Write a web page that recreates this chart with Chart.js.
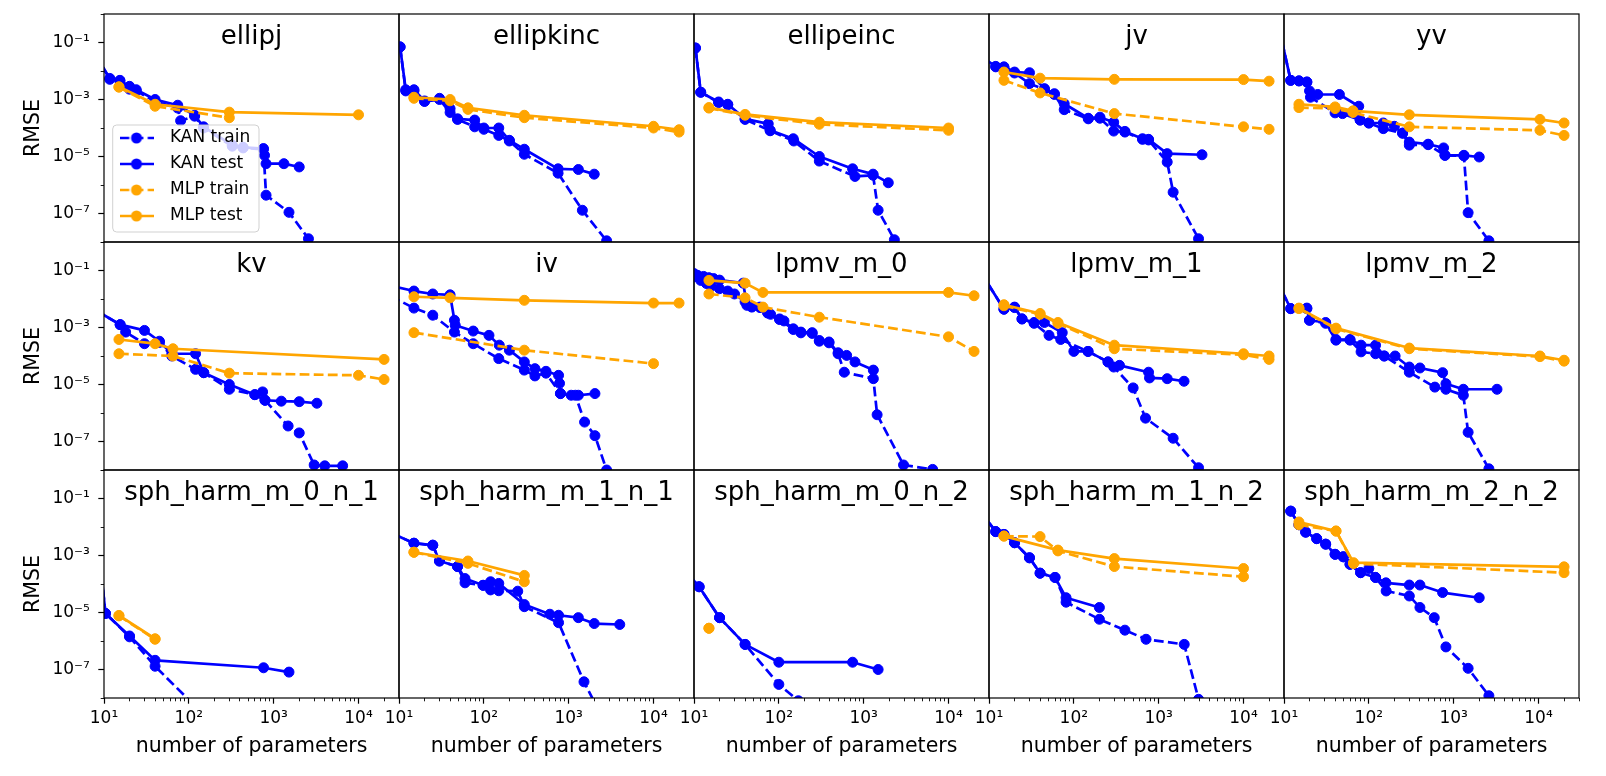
<!DOCTYPE html>
<html><head><meta charset="utf-8">
<script src="https://cdn.jsdelivr.net/npm/chart.js@4/dist/chart.umd.min.js"></script>
<style>
html,body{margin:0;padding:0;background:#fff;overflow:hidden;width:1606px;height:776px;}
canvas{position:absolute;}
</style></head><body>
<script>
// ---------------- data ----------------
const titles = ['ellipj','ellipkinc','ellipeinc','jv','yv','kv','iv','lpmv_m_0','lpmv_m_1','lpmv_m_2',
  'sph_harm_m_0_n_1','sph_harm_m_1_n_1','sph_harm_m_0_n_2','sph_harm_m_1_n_2','sph_harm_m_2_n_2'];
const seriesNames = ['KAN train','KAN test','MLP train','MLP test'];

const xMajorTicks = [10, 100, 1000, 10000];
const xTickLabels = ['10¹','10²','10³','10⁴'];
const xMinorTicks = [20,30,40,50,60,70,80,90,200,300,400,500,600,700,800,900,2000,3000,4000,5000,6000,7000,8000,9000,20000,30000];
const yMajorTicks = [1e-1, 1e-3, 1e-5, 1e-7];
const yTickLabels = ['10⁻¹','10⁻³','10⁻⁵','10⁻⁷'];
const yMinorTicks = [1, 1e-2, 1e-4, 1e-6, 1e-8];
const xRange = [10, 30000];
const yRange = [1e-8, 1];

// ellipj
const ellipj_kanTrain = [[8,3.6e-2],[11.7,5.5e-3],[15.4,4.5e-3],[20,2.3e-3],[24,2.0e-3],[40,8.5e-4],[74,5.0e-4],[80,1.8e-4],[117,2.6e-4],[149,1.0e-4],[325,2.3e-5],[436,2.0e-5],[757,1.8e-5],[813,4.4e-7],[1515,1.1e-7],[2570,1.3e-8],[4000,1.2e-9]];
const ellipj_kanTest = [[8,3.6e-2],[11.7,5.1e-3],[15.4,4.7e-3],[20,2.9e-3],[24,2.2e-3],[40,1.0e-3],[74,6.3e-4],[117,2.8e-4],[149,1.1e-4],[325,2.5e-5],[436,2.1e-5],[757,1.9e-5],[780,1.1e-5],[813,5.6e-6],[1320,5.6e-6],[2000,4.3e-6]];
const ellipj_mlpTrain = [[15,2.7e-3],[40,5.8e-4],[300,2.3e-4]];
const ellipj_mlpTest = [[15,2.8e-3],[40,6.8e-4],[300,3.6e-4],[10000,2.9e-4]];
// ellipkinc
const ellipkinc_kanTrain = [[10.3,7e-2],[12,2.0e-3],[15,2.0e-3],[20,8.5e-4],[30,1.0e-3],[40,3.5e-4],[49,2.0e-4],[78,1.1e-4],[100,9e-5],[150,5.5e-5],[200,3.5e-5],[300,1.2e-5],[750,2.6e-6],[1450,1.3e-7],[2800,1.1e-8],[4000,1.5e-9]];
const ellipkinc_kanTest = [[10.3,7e-2],[12,2.2e-3],[15,2.2e-3],[20,8.9e-4],[30,1.1e-3],[40,4.8e-4],[49,2.1e-4],[78,1.9e-4],[100,1.0e-4],[150,1.0e-4],[200,3.7e-5],[300,1.8e-5],[750,3.7e-6],[1300,3.5e-6],[2000,2.4e-6]];
const ellipkinc_mlpTrain = [[15,1.1e-3],[40,9e-4],[65,4.5e-4],[300,2.3e-4],[10000,1.0e-4],[20000,7.2e-5]];
const ellipkinc_mlpTest = [[15,1.2e-3],[40,1.0e-3],[65,5.1e-4],[300,2.8e-4],[10000,1.15e-4],[20000,8.7e-5]];
// ellipeinc
const ellipeinc_kanTrain = [[10.4,6.4e-2],[12,1.8e-3],[19.5,7.8e-4],[25,6.5e-4],[40,2.0e-4],[79,8.0e-5],[150,3.5e-5],[300,6.9e-6],[790,2.0e-6],[1290,2.2e-6],[1480,1.3e-7],[2300,1.2e-8],[3500,1e-9]];
const ellipeinc_kanTest = [[10.4,6.4e-2],[12,1.8e-3],[19.5,8.2e-4],[25,6.8e-4],[40,2.1e-4],[75,1.4e-4],[79,8.3e-5],[148,4.2e-5],[300,1.0e-5],[740,3.7e-6],[1290,2.4e-6],[1950,1.2e-6]];
const ellipeinc_mlpTrain = [[15,5.0e-4],[40,2.8e-4],[300,1.35e-4],[10000,8.3e-5]];
const ellipeinc_mlpTest = [[15,5.2e-4],[40,3.0e-4],[300,1.6e-4],[10000,1.0e-4]];
// jv
const jv_kanTrain = [[8,3.3e-2],[12,1.4e-2],[15,1.3e-2],[20,8.5e-3],[30,3.6e-3],[45,2.3e-3],[59,1.5e-3],[77,4.4e-4],[148,2.1e-4],[203,2.2e-4],[295,7.8e-5],[400,7.2e-5],[645,4.0e-5],[760,3.8e-5],[1260,6.4e-6],[1480,5.6e-7],[2950,1.3e-8],[4500,1e-9]];
const jv_kanTest = [[8,3.3e-2],[12,1.45e-2],[15,1.4e-2],[20,9.2e-3],[30,8.7e-3],[45,2.4e-3],[59,1.6e-3],[77,7.1e-4],[148,2.2e-4],[203,2.4e-4],[295,1.6e-4],[400,7.6e-5],[645,4.2e-5],[760,4.0e-5],[1260,1.26e-5],[3240,1.15e-5]];
const jv_mlpTrain = [[15,4.7e-3],[40,1.7e-3],[300,3.2e-4],[10000,1.1e-4],[20000,9e-5]];
const jv_mlpTest = [[15,9.2e-3],[40,5.6e-3],[300,5.1e-3],[10000,5.0e-3],[20000,4.4e-3]];
// yv
const yv_kanTrain = [[8,1.0],[12,4.7e-3],[15,4.5e-3],[18.6,4.1e-3],[20.5,1.2e-3],[40,3.4e-4],[49,3.2e-4],[79,1.9e-4],[100,1.5e-4],[148,9.5e-5],[250,6.6e-5],[300,2.5e-5],[500,2.6e-5],[790,1.1e-5],[1320,1.05e-5],[1480,1.07e-7],[2600,1.1e-8],[4000,1e-9]];
const yv_kanTest = [[8,1.0],[12,4.7e-3],[15,4.5e-3],[18.6,4.1e-3],[20,2.0e-3],[25,1.5e-3],[45,1.5e-3],[76,5.8e-4],[79,1.9e-4],[100,1.5e-4],[148,1.5e-4],[200,1.15e-4],[250,6.6e-5],[300,3.2e-5],[500,2.7e-5],[760,2.0e-5],[790,1.1e-5],[1320,1.1e-5],[2000,9.6e-6]];
const yv_mlpTrain = [[15,5.2e-4],[40,4.8e-4],[65,3.5e-4],[300,1.1e-4],[10400,8.3e-5],[20000,5.5e-5]];
const yv_mlpTest = [[15,6.8e-4],[40,5.5e-4],[65,4.0e-4],[300,2.9e-4],[10400,2.0e-4],[20000,1.5e-4]];
// kv
const kv_kanTrain = [[8,4e-3],[15.5,1.26e-3],[18,6.9e-4],[30,2.7e-4],[45,3.0e-4],[63,1.0e-4],[120,3.4e-5],[150,2.6e-5],[300,6.8e-6],[600,4.4e-6],[790,2.8e-6],[1480,3.5e-7],[2000,2.0e-7],[3000,1.5e-8],[4000,1.4e-8],[6500,1.4e-8]];
const kv_kanTest = [[8,4e-3],[15.5,1.26e-3],[30,7.9e-4],[45,3.3e-4],[63,1.2e-4],[120,1.2e-4],[150,2.6e-5],[300,1.0e-5],[600,4.4e-6],[740,5.5e-6],[790,2.8e-6],[1230,2.6e-6],[2000,2.5e-6],[3230,2.2e-6]];
const kv_mlpTrain = [[15,1.2e-4],[65,1.0e-4],[300,2.5e-5],[10000,2.1e-5],[20000,1.5e-5]];
const kv_mlpTest = [[15,3.8e-4],[40,2.7e-4],[65,1.8e-4],[20000,7.6e-5]];
// iv
const iv_kanTrain = [[8,1.25e-2],[15,4.8e-3],[25,2.7e-3],[45,6.9e-4],[75,2.7e-4],[150,8.1e-5],[300,3.2e-5],[400,2.0e-5],[540,2.5e-5],[800,4.8e-6],[1200,4.2e-6],[1540,4.8e-7],[2040,1.6e-7],[2800,1e-8],[4000,1e-9]];
const iv_kanTest = [[8,2.9e-2],[15,1.9e-2],[25,1.5e-2],[40,1.4e-2],[45,1.8e-3],[46,1.2e-3],[75,7.5e-4],[115,5.3e-4],[152,2.4e-4],[200,1.6e-4],[300,6.2e-5],[400,3.6e-5],[540,2.9e-5],[760,2.1e-5],[780,1.1e-5],[800,4.8e-6],[1070,4.2e-6],[1300,4.2e-6],[2040,4.8e-6]];
const iv_mlpTrain = [[15,6.6e-4],[300,1.6e-4],[10000,5.4e-5]];
const iv_mlpTest = [[15,1.2e-2],[40,1.1e-2],[300,9e-3],[10000,7.2e-3],[20000,7.2e-3]];
// lpmv_m_0
const lpmv0_kanTrain = [[10,6e-2],[12,4.5e-2],[14,3.5e-2],[16,2.8e-2],[20,2.3e-2],[25,1.9e-2],[30,1.5e-2],[40,8e-3],[48,5.2e-3],[60,5e-3],[74,3.2e-3],[102,1.9e-3],[148,8.5e-4],[182,6.5e-4],[247,6.2e-4],[300,3.3e-4],[390,2.9e-4],[500,1.2e-4],[590,2.7e-5],[1300,1.6e-5],[1440,8.7e-7],[2950,1.5e-8],[6500,1.05e-8]];
const lpmv0_kanTest = [[10,7.8e-2],[11,6.8e-2],[13,6.2e-2],[15,5.6e-2],[17,5.2e-2],[20,4.6e-2],[38,3.6e-2],[42,6e-3],[48,5.4e-3],[60,5.2e-3],[74,3.3e-3],[80,2.9e-3],[102,2.0e-3],[115,1.7e-3],[148,9e-4],[182,6.9e-4],[247,6.6e-4],[300,3.5e-4],[390,3.1e-4],[500,1.3e-4],[630,1.05e-4],[790,6.2e-5],[1300,3.2e-5]];
const lpmv0_mlpTrain = [[15,1.5e-2],[40,1.1e-2],[65,5.2e-3],[300,2.3e-3],[10000,4.7e-4],[20000,1.45e-4]];
const lpmv0_mlpTest = [[15,4.5e-2],[40,3.6e-2],[65,1.7e-2],[10000,1.7e-2],[20000,1.3e-2]];
// lpmv_m_1
const lpmv1_kanTrain = [[8,8.7e-2],[15,4.4e-3],[20,5.0e-3],[24.5,2.0e-3],[34,1.4e-3],[51,5.3e-4],[70,3.8e-4],[147,1.45e-4],[253,6.2e-5],[295,4.1e-5],[500,7.6e-6],[700,6.6e-7],[1480,1.3e-7],[2950,1.2e-8],[4500,1e-9]];
const lpmv1_kanTest = [[8,8.7e-2],[15,4.4e-3],[20,5.2e-3],[24.5,2.0e-3],[34,1.5e-3],[45,1.5e-3],[73,6.6e-4],[100,1.45e-4],[147,1.45e-4],[253,6.2e-5],[345,4.7e-5],[760,2.7e-5],[780,1.7e-5],[1260,1.6e-5],[1990,1.3e-5]];
const lpmv1_mlpTrain = [[15,5.8e-3],[40,2.9e-3],[65,1.4e-3],[300,1.8e-4],[10000,1.1e-4],[20000,7.6e-5]];
const lpmv1_mlpTest = [[15,6.3e-3],[40,3.1e-3],[65,1.5e-3],[300,2.4e-4],[10000,1.2e-4],[20000,1.0e-4]];
// lpmv_m_2
const lpmv2_kanTrain = [[8,5.1e-2],[12,4.6e-3],[18.6,4.6e-3],[20,1.8e-3],[31,1.4e-3],[41,3.6e-4],[60,3.6e-4],[81,1.4e-4],[120,1.2e-4],[152,1.0e-4],[300,2.7e-5],[600,8.1e-6],[810,6.8e-6],[1300,4.2e-6],[1480,2.1e-7],[2600,1.1e-8],[4000,1e-9]];
const lpmv2_kanTest = [[8,5.1e-2],[12,4.6e-3],[18.6,4.8e-3],[20,1.8e-3],[31,1.5e-3],[41,3.8e-4],[60,3.8e-4],[81,2.4e-4],[120,2.4e-4],[152,1.0e-4],[204,1.0e-4],[300,4.1e-5],[400,3.8e-5],[740,2.6e-5],[810,1.07e-5],[1300,6.8e-6],[3240,6.8e-6]];
const lpmv2_mlpTrain = [[15,4.6e-3],[41,9.0e-4],[300,1.8e-4],[10400,9.5e-5],[20000,6.6e-5]];
const lpmv2_mlpTest = [[15,4.8e-3],[41,9.5e-4],[300,1.9e-4],[10400,1.0e-4],[20000,7.1e-5]];
// sph_harm_m_0_n_1
const sph01_kanTrain = [[8,1.8e-2],[10.4,9.3e-6],[20,1.4e-6],[40,1.3e-7],[120,5e-9]];
const sph01_kanTest = [[8,1.8e-2],[10.4,9.3e-6],[20,1.5e-6],[40,2.1e-7],[760,1.15e-7],[1515,8.1e-8]];
const sph01_mlpTrain = [[15,7.6e-6],[40,1.15e-6]];
const sph01_mlpTest = [[15,7.9e-6],[40,1.2e-6]];
// sph_harm_m_1_n_1
const sph11_kanTrain = [[8,6.2e-3],[15,2.7e-3],[25,2.3e-3],[30,6.4e-4],[49,4.1e-4],[60,1.1e-4],[98,9e-5],[120,6.2e-5],[150,5.8e-5],[251,5.6e-5],[300,1.6e-5],[760,4.4e-6],[1515,3.7e-8],[2500,2e-9]];
const sph11_kanTest = [[8,6.2e-3],[15,2.7e-3],[25,2.3e-3],[30,6.4e-4],[49,4.1e-4],[60,1.55e-4],[98,9e-5],[120,1.2e-4],[150,1.05e-4],[300,1.9e-5],[600,8.7e-6],[760,8e-6],[1300,6.6e-6],[2000,4.1e-6],[4000,3.8e-6]];
const sph11_mlpTrain = [[15,1.3e-3],[65,5.3e-4],[300,1.2e-4]];
const sph11_mlpTest = [[15,1.3e-3],[65,6.4e-4],[300,2.0e-4]];
// sph_harm_m_0_n_2
const sph02_kanTrain = [[8,2.8e-4],[11.5,8e-5],[20,6.6e-6],[40,7.6e-7],[100,3.0e-8],[170,8e-9],[250,1e-9]];
const sph02_kanTest = [[8,2.8e-4],[11.5,8e-5],[20,6.6e-6],[40,7.6e-7],[100,1.8e-7],[740,1.8e-7],[1480,1.0e-7]];
const sph02_mlpTrain = [[15,2.8e-6]];
const sph02_mlpTest = [[15,2.8e-6]];
// sph_harm_m_1_n_2
const sph12_kanTrain = [[8,3.4e-2],[12,6.9e-3],[15,5.5e-3],[20,2.8e-3],[30,8.3e-4],[40,2.4e-4],[60,1.7e-4],[81,2.3e-5],[200,5.8e-6],[400,2.4e-6],[710,1.15e-6],[2000,7.6e-7],[2950,9e-9],[4500,1e-9]];
const sph12_kanTest = [[8,3.4e-2],[12,6.9e-3],[15,5.5e-3],[20,2.8e-3],[30,8.3e-4],[40,2.4e-4],[60,1.7e-4],[81,3.3e-5],[200,1.5e-5]];
const sph12_mlpTrain = [[15,4.8e-3],[40,4.6e-3],[65,1.45e-3],[300,4.1e-4],[10000,1.8e-4]];
const sph12_mlpTest = [[15,4.8e-3],[65,1.55e-3],[300,7.8e-4],[10000,3.5e-4]];
// sph_harm_m_2_n_2
const sph22_kanTrain = [[12,3.6e-2],[15,1.2e-2],[18,6.6e-3],[24.3,3.9e-3],[31,2.5e-3],[40,1.1e-3],[50,9e-4],[60,4.9e-4],[80,2.5e-4],[120,1.7e-4],[160,5.7e-5],[300,3.8e-5],[400,1.5e-5],[590,6.6e-6],[810,6.2e-7],[1480,1.1e-7],[2600,1.2e-8],[4000,1e-9]];
const sph22_kanTest = [[12,3.6e-2],[15,1.2e-2],[18,6.6e-3],[24.3,3.9e-3],[31,2.5e-3],[40,1.1e-3],[50,9e-4],[60,4.9e-4],[80,2.5e-4],[100,3.5e-4],[120,1.7e-4],[159,1.1e-4],[300,9.2e-5],[400,9.2e-5],[740,5e-5],[2000,3.3e-5]];
const sph22_mlpTrain = [[15,1.2e-2],[41,7.2e-3],[66,5.2e-4],[20000,2.5e-4]];
const sph22_mlpTest = [[15,1.5e-2],[41,7.2e-3],[66,5.6e-4],[20000,4.0e-4]];

const panelSeries = [
  [ellipj_kanTrain, ellipj_kanTest, ellipj_mlpTrain, ellipj_mlpTest],
  [ellipkinc_kanTrain, ellipkinc_kanTest, ellipkinc_mlpTrain, ellipkinc_mlpTest],
  [ellipeinc_kanTrain, ellipeinc_kanTest, ellipeinc_mlpTrain, ellipeinc_mlpTest],
  [jv_kanTrain, jv_kanTest, jv_mlpTrain, jv_mlpTest],
  [yv_kanTrain, yv_kanTest, yv_mlpTrain, yv_mlpTest],
  [kv_kanTrain, kv_kanTest, kv_mlpTrain, kv_mlpTest],
  [iv_kanTrain, iv_kanTest, iv_mlpTrain, iv_mlpTest],
  [lpmv0_kanTrain, lpmv0_kanTest, lpmv0_mlpTrain, lpmv0_mlpTest],
  [lpmv1_kanTrain, lpmv1_kanTest, lpmv1_mlpTrain, lpmv1_mlpTest],
  [lpmv2_kanTrain, lpmv2_kanTest, lpmv2_mlpTrain, lpmv2_mlpTest],
  [sph01_kanTrain, sph01_kanTest, sph01_mlpTrain, sph01_mlpTest],
  [sph11_kanTrain, sph11_kanTest, sph11_mlpTrain, sph11_mlpTest],
  [sph02_kanTrain, sph02_kanTest, sph02_mlpTrain, sph02_mlpTest],
  [sph12_kanTrain, sph12_kanTest, sph12_mlpTrain, sph12_mlpTest],
  [sph22_kanTrain, sph22_kanTest, sph22_mlpTrain, sph22_mlpTest]
];

// ---------------- layout & style ----------------
const COL_LEFT = [104, 399, 694, 989, 1284];
const ROW_TOP = [14, 242, 470];
const PW = 295, PH = 228;
const AX_L = 100, PAD_R = 20, TITLE_H = 32, AX_B = 76;
const FONT = 'DejaVu Sans';
Chart.defaults.font.family = FONT;
Chart.defaults.color = '#000';

const LINE_W = 2.7, PT_R = 5.0, PT_BW = 1.0;
const DASH = [9.8, 4.3];
const styles = [
  {color: '#0000ff', dash: DASH, order: 4},
  {color: '#0000ff', dash: [], order: 3},
  {color: '#ffa500', dash: DASH, order: 2},
  {color: '#ffa500', dash: [], order: 1}
];

function handleCanvas(st) {
  const c = document.createElement('canvas');
  c.width = 34; c.height = 14;
  const g = c.getContext('2d');
  g.strokeStyle = st.color; g.lineWidth = LINE_W; g.setLineDash(st.dash);
  g.beginPath(); g.moveTo(0, 7); g.lineTo(34, 7); g.stroke();
  g.setLineDash([]); g.fillStyle = st.color;
  g.beginPath(); g.arc(17, 7, PT_R + PT_BW / 2, 0, Math.PI * 2); g.fill();
  return c;
}
const handles = styles.map(handleCanvas);

const framePlugin = {
  id: 'frame',
  afterDatasetsDraw(chart) {
    const {ctx, chartArea: a} = chart;
    ctx.save();
    ctx.strokeStyle = '#000'; ctx.lineWidth = 1.2;
    ctx.strokeRect(a.left, a.top, a.right - a.left, a.bottom - a.top);
    ctx.restore();
  }
};
const placePlugin = {
  id: 'place',
  beforeLayout(chart) {
    const lg = chart.legend;
    if (lg && lg.options && lg.options.display) {
      lg._layers = () => [{z: 10, draw: (ca) => lg.draw(ca)}];
    }
  },
  afterLayout(chart) {
    const a = chart.chartArea;
    const t = chart.titleBlock;
    if (t) { t.left = a.left; t.right = a.right; t.width = a.right - a.left; t.top = a.top + 7.1; t.bottom = t.top + TITLE_H; }
    const lg = chart.legend;
    if (lg && lg.options && lg.options.display) {
      lg.left = a.left - 1.5; lg.top = a.top + 106.5; lg.bottom = lg.top + 160; lg.right = lg.left + 200;
    }
  }
};
const legendFramePlugin = {
  id: 'legendFrame',
  afterDatasetsDraw(chart) {
    const a = chart.chartArea, ctx = chart.ctx;
    const x0 = a.left + 8.7, y0 = a.top + 111, x1 = a.left + 155, y1 = a.bottom - 10;
    ctx.save();
    ctx.beginPath();
    ctx.roundRect(x0, y0, x1 - x0, y1 - y0, 4);
    ctx.fillStyle = 'rgba(255,255,255,0.8)'; ctx.fill();
    ctx.strokeStyle = 'rgba(204,204,204,0.9)'; ctx.lineWidth = 1; ctx.stroke();
    ctx.restore();
  }
};

function makeChart(idx) {
  const row = Math.floor(idx / 5), col = idx % 5;
  const isBottom = row === 2, isLeft = col === 0, hasLegend = idx === 0;
  const canvas = document.createElement('canvas');
  canvas.width = AX_L + PW + PAD_R;
  canvas.height = TITLE_H + PH + AX_B;
  document.body.appendChild(canvas);

  const datasets = panelSeries[idx].map((d, i) => ({
    label: seriesNames[i], data: d, xAxisID: 'x', yAxisID: 'y',
    borderColor: styles[i].color, backgroundColor: styles[i].color,
    borderWidth: LINE_W, borderDash: styles[i].dash, borderJoinStyle: 'round', borderCapStyle: 'butt',
    pointRadius: PT_R, pointBorderWidth: PT_BW, pointHoverRadius: PT_R,
    pointBackgroundColor: styles[i].color, pointBorderColor: styles[i].color,
    tension: 0, fill: false, order: styles[i].order
  }));

  const tickFont = {size: 17, family: FONT};
  const chart = new Chart(canvas, {
    type: 'line',
    data: {datasets},
    plugins: hasLegend ? [placePlugin, framePlugin, legendFramePlugin] : [placePlugin, framePlugin],
    options: {
      responsive: false, maintainAspectRatio: false, animation: false, devicePixelRatio: 1,
      events: [],
      layout: {padding: {left: 0, top: 0, right: PAD_R, bottom: 0}},
      plugins: {
        tooltip: {enabled: false},
        title: {display: true, text: titles[idx], position: 'top', align: 'center', color: '#000',
          font: {size: 26, family: FONT, weight: 'normal', lineHeight: TITLE_H + 'px'}, padding: 0},
        legend: hasLegend ? {
          display: true, position: 'chartArea', align: 'start',
          labels: {
            usePointStyle: true, pointStyleWidth: 50, boxHeight: 17, padding: 9,
            font: {size: 17, family: FONT}, color: '#000',
            generateLabels: (ch) => ch.data.datasets.map((ds, i) => ({
              text: ds.label, pointStyle: handles[i], fillStyle: ds.borderColor, strokeStyle: ds.borderColor,
              lineWidth: 0, hidden: false, datasetIndex: i, fontColor: '#000', textAlign: 'left'
            }))
          }
        } : {display: false}
      },
      scales: {
        x: {
          type: 'logarithmic', axis: 'x', position: 'bottom', min: xRange[0], max: xRange[1], weight: 1, display: true,
          afterBuildTicks: (s) => { s.ticks = xMajorTicks.map(v => ({value: v, major: true})); },
          afterFit: (s) => { s.height = AX_B; },
          ticks: {display: isBottom, autoSkip: false, maxRotation: 0, minRotation: 0, padding: 4.8, font: tickFont, color: '#000',
            callback: (v, i) => xTickLabels[i]},
          grid: {display: isBottom, drawOnChartArea: false, drawTicks: true, tickLength: 5.7, tickColor: '#000', tickWidth: 1.2},
          border: {display: false},
          title: {display: isBottom, text: 'number of parameters', color: '#000', font: {size: 20.5, family: FONT}, padding: {top: 0, bottom: 14.7}}
        },
        xMinor: {
          type: 'logarithmic', axis: 'x', position: 'bottom', min: xRange[0], max: xRange[1], weight: 0, display: true,
          afterBuildTicks: (s) => { s.ticks = xMinorTicks.map(v => ({value: v})); },
          afterFit: (s) => { s.height = 0; },
          ticks: {display: false, autoSkip: false, callback: () => ''},
          grid: {display: isBottom, drawOnChartArea: false, drawTicks: true, tickLength: 3.3, tickColor: '#000', tickWidth: 0.9},
          border: {display: false}
        },
        y: {
          type: 'logarithmic', axis: 'y', position: 'left', min: yRange[0], max: yRange[1], weight: 1, display: true,
          afterBuildTicks: (s) => { s.ticks = yMajorTicks.map(v => ({value: v, major: true})); },
          afterFit: (s) => { s.width = AX_L; },
          ticks: {display: isLeft, autoSkip: false, padding: 8.5, font: tickFont, color: '#000',
            callback: (v, i) => yTickLabels[i]},
          grid: {display: isLeft, drawOnChartArea: false, drawTicks: true, tickLength: 5.7, tickColor: '#000', tickWidth: 1.2},
          border: {display: false},
          title: {display: isLeft, text: 'RMSE', color: '#000', font: {size: 20.5, family: FONT}, padding: {top: 17.2, bottom: 0}}
        },
        yMinor: {
          type: 'logarithmic', axis: 'y', position: 'left', min: yRange[0], max: yRange[1], weight: 0, display: true,
          afterBuildTicks: (s) => { s.ticks = yMinorTicks.map(v => ({value: v})); },
          afterFit: (s) => { s.width = 0; },
          ticks: {display: false, autoSkip: false, callback: () => ''},
          grid: {display: isLeft, drawOnChartArea: false, drawTicks: true, tickLength: 3.3, tickColor: '#000', tickWidth: 0.9},
          border: {display: false}
        }
      }
    }
  });

  let a = chart.chartArea;
  const dw = PW - (a.right - a.left), dh = PH - (a.bottom - a.top);
  if (Math.abs(dw) > 0.01 || Math.abs(dh) > 0.01) {
    chart.resize(Math.round(chart.width + dw), Math.round(chart.height + dh));
    a = chart.chartArea;
  }
  canvas.style.left = (COL_LEFT[col] - a.left) + 'px';
  canvas.style.top = (ROW_TOP[row] - a.top) + 'px';
  return chart;
}

for (let i = 0; i < titles.length; i++) makeChart(i);
</script>
</body></html>
